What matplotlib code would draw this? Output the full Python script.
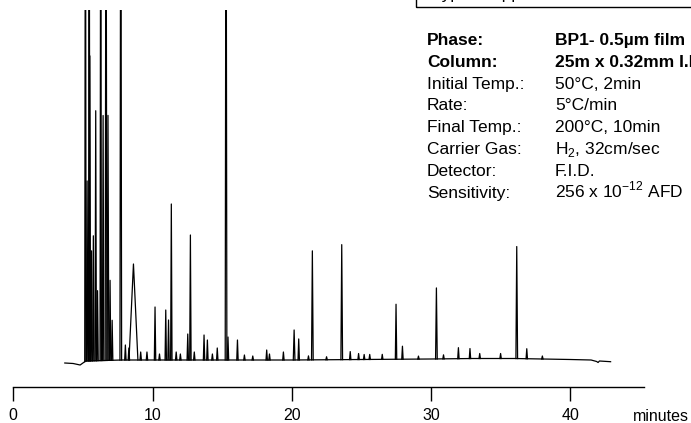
import numpy as np
import matplotlib.pyplot as plt
from matplotlib.patches import Rectangle

plt.rcParams['font.family'] = ['Liberation Sans', 'DejaVu Sans']
plt.rcParams['mathtext.fontset'] = 'custom'
plt.rcParams['mathtext.rm'] = 'Liberation Sans'

# baseline of the trace (minutes, response)
base_t = [3.7, 4.3, 4.8, 5.0, 5.2, 7.8, 12.0, 20.0, 25.0, 30.0, 33.0, 36.0, 40.0, 41.5, 41.9, 42.0, 42.1, 42.9]
base_y = [0.0, -0.5, -2.0, 0.0, 2.0, 3.0, 3.0, 3.0, 3.5, 4.0, 4.5, 4.5, 3.5, 3.0, 1.5, 0.5, 2.0, 1.3]

# peaks: retention time (min), height above baseline, half width at base (min)
peak_t = [5.18, 5.30, 5.45, 5.50, 5.62, 5.75, 5.92, 6.05, 6.28, 6.45, 6.66, 6.80, 6.95, 7.10,
          7.72, 8.05, 8.30, 8.63, 9.15, 9.60, 10.18, 10.50, 10.95, 11.15, 11.35, 11.70, 12.00,
          12.53, 12.72, 13.00, 13.70, 13.94, 14.30, 14.65, 15.28, 15.42, 16.10, 16.60, 17.20,
          18.20, 18.40, 19.40, 20.17, 20.50, 21.20, 21.48, 22.50, 23.59, 24.20, 24.80, 25.20,
          25.60, 26.50, 27.49, 27.95, 29.10, 30.39, 30.90, 31.97, 32.80, 33.50, 35.00, 36.16,
          36.88, 38.00]
peak_h = [600, 180, 600, 305, 110, 125, 250, 70, 600, 245, 600, 245, 80, 40,
          600, 15, 12, 96, 8, 8, 53, 6, 50, 40, 156, 8, 6,
          26, 125, 8, 25, 20, 6, 12, 600, 23, 20, 5, 4,
          10, 6, 8, 30, 21, 4, 109, 3, 115, 8, 6, 5,
          5, 5, 55, 13, 3, 71, 4, 11, 10, 5, 5, 112,
          10, 3]
peak_w = [0.05, 0.05, 0.05, 0.05, 0.05, 0.05, 0.05, 0.05, 0.05, 0.05, 0.06, 0.06, 0.05, 0.05,
          0.06, 0.05, 0.05, 0.32, 0.05, 0.05, 0.05, 0.05, 0.05, 0.05, 0.05, 0.05, 0.05,
          0.05, 0.05, 0.05, 0.05, 0.05, 0.05, 0.05, 0.06, 0.05, 0.05, 0.05, 0.05,
          0.05, 0.05, 0.05, 0.06, 0.05, 0.05, 0.06, 0.05, 0.06, 0.05, 0.05, 0.05,
          0.05, 0.05, 0.05, 0.05, 0.05, 0.06, 0.05, 0.05, 0.05, 0.05, 0.05, 0.06,
          0.05, 0.05]

ticks = [0, 10, 20, 30, 40]

labels = ['Phase:', 'Column:', 'Initial Temp.:', 'Rate:', 'Final Temp.:',
          'Carrier Gas:', 'Detector:', 'Sensitivity:']
values = ['BP1- 0.5\u00b5m film', '25m x 0.32mm I.D.', '50\u00b0C, 2min', '5\u00b0C/min',
          '200\u00b0C, 10min', 'H$_2$, 32cm/sec', 'F.I.D.', '256 x 10$^{-12}$ AFD']
bold_rows = 2

W, H = 691, 423
fig = plt.figure(figsize=(W / 100, H / 100), dpi=100)
ax = fig.add_axes([13.3 / W, 1 - 387 / H, (644 - 13.3) / W, (387 - 10) / H])

ax.plot(base_t, base_y, color='black', lw=0.9)
for t, h, w in zip(peak_t, peak_h, peak_w):
    b0 = np.interp(t - w, base_t, base_y)
    b1 = np.interp(t + w, base_t, base_y)
    bm = np.interp(t, base_t, base_y)
    ax.plot([t - w, t, t + w], [b0, bm + h, b1], color='black', lw=0.9)

ax.set_xlim(0, 45.3)
ax.set_ylim(-24, 353)
for s in ['left', 'right', 'top']:
    ax.spines[s].set_visible(False)
ax.spines['bottom'].set_linewidth(1.0)
ax.set_yticks([])
ax.set_xticks(ticks)
ax.tick_params(axis='x', direction='out', length=10, width=1.0, pad=5, labelsize=11.5)

fig.text(633 / W, 1 - 416 / H, 'minutes', fontsize=11.5, va='center', ha='left')

# conditions table
for i, (lab, val) in enumerate(zip(labels, values)):
    y = 1 - (45 + 21.8 * i) / H
    fw = 'bold' if i < bold_rows else 'normal'
    fig.text(427 / W, y, lab, fontsize=12.5, fontweight=fw, va='baseline', ha='left')
    fig.text(555 / W, y, val, fontsize=12.5, fontweight=fw, va='baseline', ha='left')

# box cut off at the top edge
fig.patches.append(Rectangle((416 / W, 1 - 7 / H), 0.6, 0.2, transform=fig.transFigure,
                             fill=False, lw=1.0, ec='black'))
fig.text(432 / W, 1 + 1.0 / H, 'Typical Application', fontsize=12.5, va='baseline', ha='left')

fig.savefig('out.png', dpi=100)
